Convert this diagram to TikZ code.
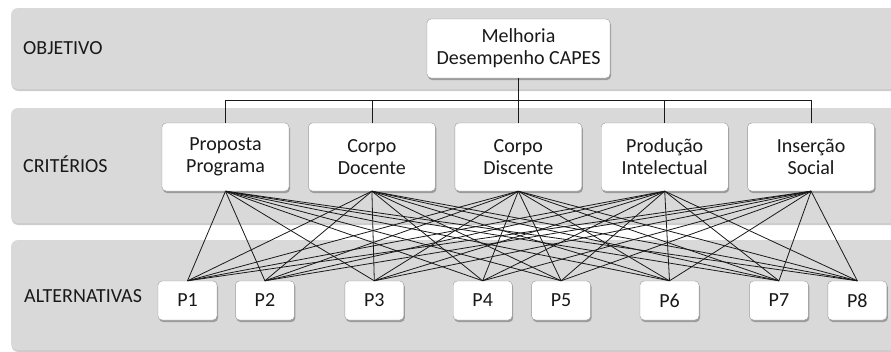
\documentclass[tikz,border=0pt]{standalone}
\usepackage{fontspec}
\setmainfont{Carlito}
\usetikzlibrary{positioning}
\usetikzlibrary{shadows}

\tikzset{
  layer/.style={fill=black!15, rounded corners=7pt, drop shadow={shadow xshift=0.5pt, shadow yshift=-2pt, fill=black!40, opacity=0.5}},
  layername/.style={anchor=west, text=black!90, inner sep=0pt},
  box/.style={draw=black!40, fill=white, rounded corners=4pt, align=center, text=black!90,
    drop shadow={shadow xshift=1pt, shadow yshift=-2pt, fill=black!55, opacity=0.6}},
  critbox/.style={box, minimum width=127pt, minimum height=68pt, inner sep=1pt},
  altbox/.style={box, minimum width=59pt, minimum height=39pt, inner sep=1pt},
  link/.style={line width=0.8pt, black!90},
}

\begin{document}
\begin{tikzpicture}[x=1pt, y=-1pt, font=\fontsize{20}{22}\selectfont]
    \useasboundingbox (0,0) rectangle (891,351);
    \begin{scope}
    \clip (0,0) rectangle (891,351);
    % bands
    \fill[layer] (11,8) rectangle (905,89);
    \fill[layer] (11,108) rectangle (905,223);
    \fill[layer] (11,240) rectangle (905,350);
    \end{scope}

    \node[layername] (lobj) at (23,48.5) {OBJETIVO};
    \node[layername] (lcrit) at (23,164.5) {CRITÉRIOS};
    \node[layername] (lalt) at (24,296.5) {ALTERNATIVAS};

    \node[box, minimum width=183pt, minimum height=59pt, inner sep=1pt] (obj) at (518.5,48.5) {Melhoria\\Desempenho CAPES};

    \node[critbox] (prop) at (225.5,157) {Proposta\\Programa};
    \node[critbox, right=19pt of prop] (doc) {Corpo\\Docente};
    \node[critbox, right=19pt of doc] (disc) {Corpo\\Discente};
    \node[critbox, right=19pt of disc] (prod) {Produção\\Intelectual};
    \node[critbox, right=19pt of prod] (ins) {Inserção\\Social};

    \node[altbox] (p1) at (187.5,300.5) {P1};
    \node[altbox, right=18pt of p1] (p2) {P2};
    \node[altbox, right=50pt of p2] (p3) {P3};
    \node[altbox, right=49pt of p3] (p4) {P4};
    \node[altbox, right=19pt of p4] (p5) {P5};
    \node[altbox, right=49pt of p5] (p6) {P6};
    \node[altbox, right=50pt of p6] (p7) {P7};
    \node[altbox, right=19pt of p7] (p8) {P8};

    % objective to criteria
    \coordinate (bus) at (518.5,100);
    \draw[link] (obj.south) -- (bus);
    \foreach \c in {prop,doc,disc,prod,ins}
        \draw[link] (bus) -| (\c.north);

    % criteria to alternatives
    \foreach \c in {prop,doc,disc,prod,ins}
        \foreach \p in {1,...,8}
            \draw[link] (\c.south) -- (p\p.north);
\end{tikzpicture}
\end{document}
